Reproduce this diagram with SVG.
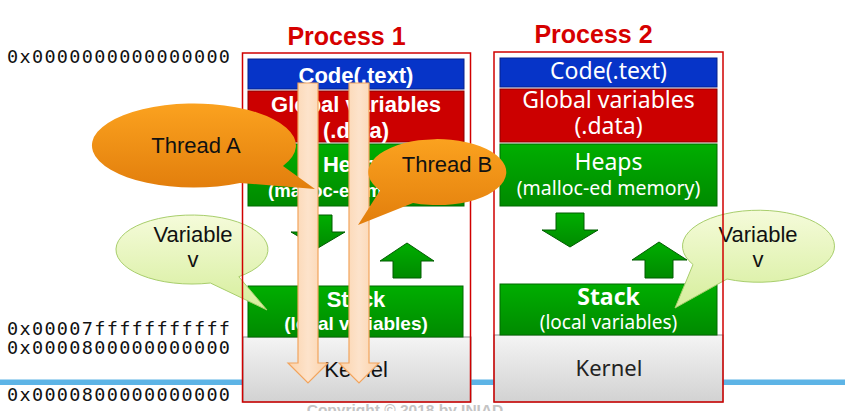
<svg xmlns="http://www.w3.org/2000/svg" width="845" height="411" viewBox="0 0 845 411">
<defs>
<linearGradient id="gGreen" x1="0" y1="0" x2="0" y2="1"><stop offset="0" stop-color="#00AE00"/><stop offset="1" stop-color="#008A00"/></linearGradient>
<linearGradient id="gKernel" x1="0" y1="0" x2="0" y2="1"><stop offset="0" stop-color="#F4F4F4"/><stop offset="1" stop-color="#D2D2D2"/></linearGradient>
<linearGradient id="gOrange" x1="0" y1="0" x2="0" y2="1"><stop offset="0" stop-color="#FBA21F"/><stop offset="1" stop-color="#E27E0C"/></linearGradient>
<linearGradient id="gLime" x1="0" y1="0" x2="0" y2="1"><stop offset="0" stop-color="#F5FBDA"/><stop offset="1" stop-color="#D6EE9C"/></linearGradient>
<linearGradient id="gPeach" x1="0" y1="0" x2="1" y2="0"><stop offset="0" stop-color="#FBD2AA"/><stop offset="0.5" stop-color="#FDE3CB"/><stop offset="1" stop-color="#FBD2AA"/></linearGradient>
</defs>
<style>
.addr{font-family:"DejaVu Sans Mono","Liberation Mono",monospace;font-size:18.5px;fill:#111}
.title{font-family:"Liberation Sans",Arial,sans-serif;font-weight:bold;font-size:25px;fill:#D60000;text-anchor:middle}
.b1{font-family:"Liberation Sans",Arial,sans-serif;font-weight:bold;fill:#fff;text-anchor:middle}
.b2{font-family:"Noto Sans","Noto Sans CJK JP",sans-serif;fill:#fff;text-anchor:middle}
.kern1{font-family:"Liberation Sans",Arial,sans-serif;font-size:22px;fill:#111;text-anchor:middle}
.kern2{font-family:"Noto Sans","Noto Sans CJK JP",sans-serif;font-size:22px;fill:#222;text-anchor:middle}
.code{fill:#0634C8;stroke:#06208A;stroke-width:1}
.glob{fill:#CC0000;stroke:#8A0000;stroke-width:1}
.grn{fill:url(#gGreen);stroke:#006A00;stroke-width:1}
.kbox{fill:url(#gKernel);stroke:#8C8C8C;stroke-width:1}
.outline{fill:none;stroke:#D00000;stroke-width:1.5}
.blk{fill:url(#gGreen);stroke:#005C00;stroke-width:1}
.thr{fill:url(#gPeach);stroke:#F2A45C;stroke-width:1.2}
.tb{fill:url(#gOrange)}
.vb{fill:url(#gLime);stroke:#A8CE6C;stroke-width:1}
.bt{font-family:"Liberation Sans",Arial,sans-serif;font-size:22px;fill:#111;text-anchor:middle}
.copy{font-family:"Liberation Sans",Arial,sans-serif;font-weight:bold;font-size:15.5px;fill:#C4C4C4;text-anchor:middle}
</style>
<rect width="845" height="411" fill="#fff"/>
<rect id="baseline" x="0" y="379.5" width="845" height="5.5" fill="#5DB4E6"/>

<g id="addresses">
<text class="addr" x="7" y="63" textLength="223" lengthAdjust="spacing">0x0000000000000000</text>
<text class="addr" x="7" y="335" textLength="223" lengthAdjust="spacing">0x00007fffffffffff</text>
<text class="addr" x="7" y="354" textLength="223" lengthAdjust="spacing">0x0000800000000000</text>
<text class="addr" x="7" y="401" textLength="223" lengthAdjust="spacing">0x0000800000000000</text>
</g>

<g id="process1">
<text class="title" x="346.5" y="45">Process 1</text>
<rect class="kbox" x="243" y="337" width="228" height="65"/>
<text class="kern1" x="356" y="377">Kernel</text>
<rect class="code" x="248" y="59" width="216" height="30"/>
<text class="b1" x="356" y="83" font-size="22">Code(.text)</text>
<rect class="glob" x="248" y="91" width="216" height="51"/>
<text class="b1" x="356" y="112" font-size="22">Global variables</text>
<text class="b1" x="356" y="138" font-size="22">(.data)</text>
<rect class="grn" x="248" y="144" width="216" height="62"/>
<text class="b1" x="356" y="172" font-size="22">Heaps</text>
<text class="b1" x="356" y="197" font-size="18.5">(malloc-ed memory)</text>
<rect class="grn" x="248" y="286" width="215" height="51"/>
<text class="b1" x="356" y="307" font-size="22">Stack</text>
<text class="b1" x="356" y="330" font-size="19">(local variables)</text>
<polygon class="blk" points="304,215 332,215 332,232 345,232 318,248 291,232 304,232"/>
<polygon class="blk" points="393,278 421,278 421,261 434,261 407,243 380,261 393,261"/>
</g>

<g id="process2">
<text class="title" x="593.5" y="43">Process 2</text>
<rect class="kbox" x="494" y="335" width="229" height="67"/>
<text class="kern2" x="609" y="376">Kernel</text>
<rect class="code" x="500" y="58" width="217" height="29"/>
<text class="b2" x="608.5" y="79" font-size="23">Code(.text)</text>
<rect class="glob" x="500" y="89" width="217" height="53"/>
<text class="b2" x="608.5" y="108" font-size="23">Global variables</text>
<text class="b2" x="608.5" y="134" font-size="23">(.data)</text>
<rect class="grn" x="500" y="144" width="217" height="62"/>
<text class="b2" x="608.5" y="170" font-size="23">Heaps</text>
<text class="b2" x="608.5" y="195" font-size="19.5">(malloc-ed memory)</text>
<rect class="grn" x="500" y="284" width="217" height="51"/>
<text class="b2" x="608.5" y="305" font-size="23" font-weight="bold">Stack</text>
<text class="b2" x="608.5" y="329" font-size="19">(local variables)</text>
<polygon class="blk" points="556,213 584,213 584,230 598,230 570,247 542,230 556,230"/>
<polygon class="blk" points="645,278 673,278 673,260 687,260 659,242 632,260 645,260"/>
</g>

<g id="variable-v-left">
<path class="vb" d="M238.8,276.7 L267,310 L210.4,283 A76 34.5 0 1 1 238.8,276.7 Z"/>
<text class="bt" x="193" y="242">Variable</text>
<text class="bt" x="193" y="267">v</text>
</g>

<g id="variable-v-right">
<path class="vb" d="M727,279 L675,308 L693,264.5 A76 36 0 1 1 727,279 Z"/>
<text class="bt" x="758" y="242">Variable</text>
<text class="bt" x="758" y="267">v</text>
</g>

<g id="outlines">
<rect class="outline" x="242.5" y="53" width="228" height="349"/>
<rect class="outline" x="494" y="52" width="229" height="350"/>
</g>

<g id="connectors">
<polygon id="threadA-arrow" class="thr" points="298,83 318,83 318,363 328,363 308,383 288,363 298,363"/>
<polygon id="threadB-arrow" class="thr" points="349,83 369,83 369,363 379,363 359,383 339,363 349,363"/>
</g>

<g id="thread-a">
<path class="tb" d="M283,166 L315,189 L240,183 A102 42 0 1 1 283,166 Z"/>
<text class="bt" x="196" y="153">Thread A</text>
</g>

<g id="thread-b">
<path class="tb" d="M413,203 L358,225 L380,190.5 A69 33 0 1 1 413,203 Z"/>
<text class="bt" x="447" y="172">Thread B</text>
</g>

<text class="copy" x="405" y="415">Copyright © 2018 by INIAD</text>
</svg>
